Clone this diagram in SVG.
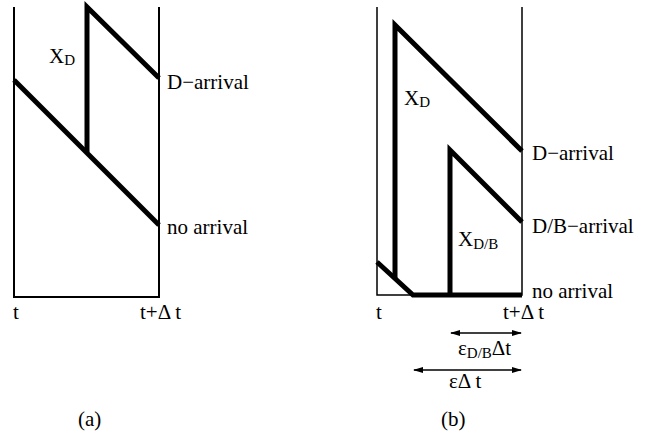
<svg xmlns="http://www.w3.org/2000/svg" width="657" height="437" viewBox="0 0 657 437">
<defs>
<style>
.thin{fill:none;stroke:#000;stroke-width:2}
.thin2{fill:none;stroke:#000;stroke-width:1.5}
.thick{fill:none;stroke:#000;stroke-width:5}
.arr{fill:none;stroke:#000;stroke-width:1.5}
</style>
<marker id="ah" viewBox="0 0 10 6" refX="9" refY="3" markerWidth="10" markerHeight="6" markerUnits="userSpaceOnUse" orient="auto-start-reverse">
<path d="M0,0 L10,3 L0,6 Z" fill="#000"/>
</marker>
</defs>
<g id="panel-a">
<path class="thin" d="M14,7 V297 H159 V7"/>
<g id="connectors-a">
<path class="thick" d="M14,80 L159,225"/>
<path class="thick" d="M87,152 V7 L159,78"/>
</g>
<g id="label-a-xd"><text x="49" y="63" font-family="Liberation Serif" font-size="21">X<tspan font-size="15" dy="2">D</tspan></text></g>
<g id="label-a-darr"><text x="167" y="89" font-family="Liberation Serif" font-size="21">D−arrival</text></g>
<g id="label-a-noarr"><text x="167" y="234" font-family="Liberation Serif" font-size="21">no arrival</text></g>
<g id="label-a-t"><text x="13" y="319" font-family="Liberation Serif" font-size="21">t</text></g>
<g id="label-a-tdt"><text x="140" y="319" font-family="Liberation Serif" font-size="21">t+Δ t</text></g>
<g id="label-a"><text x="78" y="426" font-family="Liberation Serif" font-size="21">(a)</text></g>
</g>
<g id="panel-b">
<path class="thin2" d="M377,7 V295 H522 V7"/>
<g id="connectors-b">
<path class="thick" d="M377,262 L413,295 H522"/>
<path class="thick" d="M395,279 V25 L522,151"/>
<path class="thick" d="M450,295 V150 L522,222"/>
<path class="arr" marker-start="url(#ah)" marker-end="url(#ah)" d="M451,333 H521"/>
<path class="arr" marker-start="url(#ah)" marker-end="url(#ah)" d="M414,370 H521"/>
</g>
<g id="label-b-xd"><text x="404" y="105" font-family="Liberation Serif" font-size="21">X<tspan font-size="15" dy="2">D</tspan></text></g>
<g id="label-b-xdb"><text x="458" y="246" font-family="Liberation Serif" font-size="21">X<tspan font-size="15" dy="3">D/B</tspan></text></g>
<g id="label-b-darr"><text x="532" y="160" font-family="Liberation Serif" font-size="21">D−arrival</text></g>
<g id="label-b-dbarr"><text x="532" y="233" font-family="Liberation Serif" font-size="21">D/B−arrival</text></g>
<g id="label-b-noarr"><text x="532" y="298" font-family="Liberation Serif" font-size="21">no arrival</text></g>
<g id="label-b-t"><text x="376" y="319" font-family="Liberation Serif" font-size="21">t</text></g>
<g id="label-b-tdt"><text x="503" y="319" font-family="Liberation Serif" font-size="21">t+Δ t</text></g>
<g id="label-b-edb"><text x="458" y="355" font-family="Liberation Serif" font-size="21">ε<tspan font-size="15" dy="3">D/B</tspan><tspan dy="-3">Δt</tspan></text></g>
<g id="label-b-e"><text x="449" y="388" font-family="Liberation Serif" font-size="21">εΔ t</text></g>
<g id="label-b"><text x="441" y="426" font-family="Liberation Serif" font-size="21">(b)</text></g>
</g>
</svg>
